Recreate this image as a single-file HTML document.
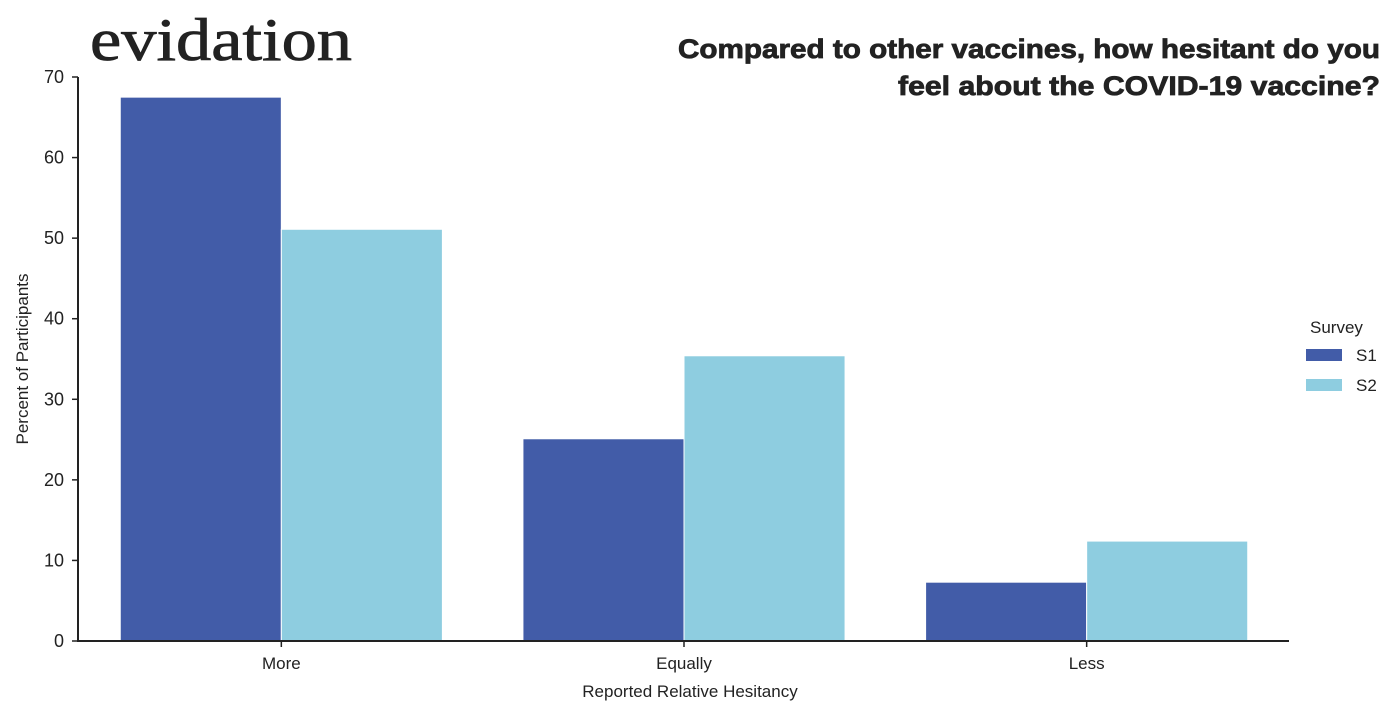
<!DOCTYPE html>
<html><head><meta charset="utf-8"><style>
body{margin:0;background:#fff;width:1400px;height:714px;overflow:hidden;font-family:"Liberation Sans",sans-serif}
svg{display:block}
</style></head><body>
<svg id="chart" width="1400" height="714">
<text x="90" y="60" font-family="Liberation Serif,serif" font-size="60" fill="#222" stroke="#222" stroke-width="0.8" textLength="262" lengthAdjust="spacingAndGlyphs">evidation</text>
<text x="1380" y="58" text-anchor="end" font-size="27" font-weight="bold" fill="#222" stroke="#222" stroke-width="0.8" textLength="702" lengthAdjust="spacingAndGlyphs">Compared to other vaccines, how hesitant do you</text>
<text x="1380" y="95" text-anchor="end" font-size="27" font-weight="bold" fill="#222" stroke="#222" stroke-width="0.8" textLength="482" lengthAdjust="spacingAndGlyphs">feel about the COVID-19 vaccine?</text>
<g id="yticks"></g><g id="bars"></g><g id="xticks"></g>
<line x1="78" y1="77" x2="78" y2="642" stroke="#222" stroke-width="2"/>
<line x1="77" y1="641" x2="1289" y2="641" stroke="#222" stroke-width="2"/>
<text x="690" y="697" text-anchor="middle" font-size="17" fill="#222">Reported Relative Hesitancy</text>
<text transform="translate(28,359) rotate(-90)" text-anchor="middle" font-size="17" fill="#222">Percent of Participants</text>
<g>
<text x="1310" y="333" font-size="17" fill="#222">Survey</text>
<rect x="1306" y="349" width="36" height="12" fill="#425ca8"/>
<text x="1356" y="361" font-size="17" fill="#222">S1</text>
<rect x="1306" y="379" width="36" height="12" fill="#8ecde0"/>
<text x="1356" y="391" font-size="17" fill="#222">S2</text>
</g>
</svg>
<script>
const categories=["More","Equally","Less"];
const s1Values=[67.5,25.1,7.3];
const s2Values=[51.1,35.4,12.4];
const yTicks=[0,10,20,30,40,50,60,70];
const NS="http://www.w3.org/2000/svg";
const x0=80,x1=1288,y0=641,yTop=77,yMax=70;
const y=v=>y0-(v/yMax)*(y0-yTop);
const band=(x1-x0)/categories.length;
const cx=i=>x0+band*(i+0.5);
const bw=band*0.4;
function mk(t,a){const e=document.createElementNS(NS,t);for(const k in a)e.setAttribute(k,a[k]);return e;}
const yt=document.getElementById('yticks');
yTicks.forEach(v=>{
 const t=mk('text',{x:64,y:y(v)+6,'text-anchor':'end','font-size':18,fill:'#222'});
 t.textContent=v;
 
 
 yt.appendChild(t);
 const l=mk('line',{x1:72,x2:78,y1:y(v),y2:y(v),stroke:'#222','stroke-width':1.5});
 
 
 yt.appendChild(l);
});
const bars=document.getElementById('bars'),xt=document.getElementById('xticks');
categories.forEach((c,i)=>{
 const r1=mk('rect',{x:cx(i)-bw,y:y(s1Values[i]),width:bw,height:y0-y(s1Values[i]),fill:'#425ca8',stroke:'#fff','stroke-width':1});
 
 
 bars.appendChild(r1);
 const r2=mk('rect',{x:cx(i),y:y(s2Values[i]),width:bw,height:y0-y(s2Values[i]),fill:'#8ecde0',stroke:'#fff','stroke-width':1});
 
 
 bars.appendChild(r2);
 const t=mk('text',{x:cx(i),y:669,'text-anchor':'middle','font-size':17,fill:'#222'});
 t.textContent=c;
 
 
 xt.appendChild(t);
 const l=mk('line',{x1:cx(i),x2:cx(i),y1:641,y2:647,stroke:'#222','stroke-width':1.5});
 
 
 xt.appendChild(l);
});
</script>
</body></html>
